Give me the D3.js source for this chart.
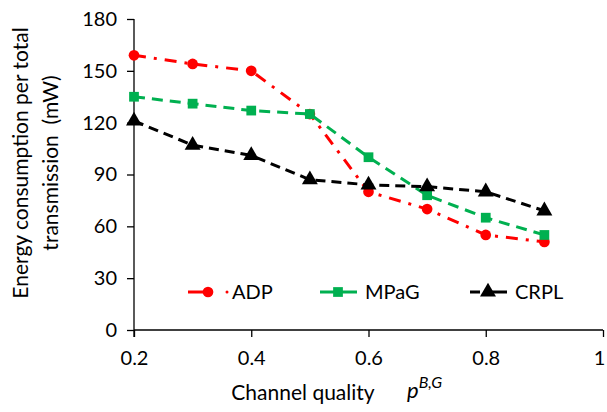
<!DOCTYPE html>
<html>
<head>
<meta charset="utf-8">
<script src="https://cdn.jsdelivr.net/npm/d3@7"></script>
<style>
  body { margin: 0; background: #fff; }
  text { font-family: Lato, "Open Sans", sans-serif; fill: #000; }
</style>
</head>
<body>
<svg width="607" height="412"></svg>
<script>
var quality = [0.2, 0.3, 0.4, 0.5, 0.6, 0.7, 0.8, 0.9];
var adp = [159, 154, 150, 125, 80, 70, 55, 51];
var mpag = [135, 131, 127, 125, 100, 78, 65, 55];
var crpl = [121, 107, 101, 87, 84, 83, 80, 69];
var xTicks = [0.2, 0.4, 0.6, 0.8, 1];
var yTicks = [0, 30, 60, 90, 120, 150, 180];

var series = [
    { name: "ADP", values: adp, color: "#FF0000", dash: "12,8,3,8", shape: "circle" },
    { name: "MPaG", values: mpag, color: "#00B050", dash: "11,7", shape: "square" },
    { name: "CRPL", values: crpl, color: "#000000", dash: "10,6", shape: "triangle" }
];

var svg = d3.select("svg"),
    margin = { top: 19, right: 4, bottom: 82, left: 134 },
    width = +svg.attr("width") - margin.left - margin.right,
    height = +svg.attr("height") - margin.top - margin.bottom;

var x = d3.scaleLinear().domain([0.2, 1]).range([0, width]);
var y = d3.scaleLinear().domain([0, 180]).range([height, 0]);

var g = svg.append("g")
    .attr("transform", "translate(" + margin.left + "," + margin.top + ")");

// axes
var yAxis = g.append("g")
    .call(d3.axisLeft(y).tickValues(yTicks).tickSize(7).tickPadding(10));
var xAxis = g.append("g")
    .attr("transform", "translate(0," + height + ")")
    .call(d3.axisBottom(x).tickValues(xTicks).tickSize(7).tickPadding(14)
        .tickFormat(function (d) { return d === 1 ? "1" : d3.format(".1f")(d); }));

[xAxis, yAxis].forEach(function (a) {
    a.select(".domain").attr("stroke", "#000").attr("stroke-width", 1.3);
    a.selectAll(".tick line").attr("stroke", "#000").attr("stroke-width", 1.3);
    a.selectAll("text").attr("font-size", 20).attr("fill", "#000");
});
xAxis.select(".domain").attr("d", "M0,0H" + width);
yAxis.select(".domain").attr("d", "M0," + (height + 7) + "V0");
// keep the last label inside the frame
xAxis.selectAll(".tick text").filter(function (d) { return d === 1; }).attr("dx", -4);

var symbols = {
    circle: d3.symbol().type(d3.symbolCircle).size(90),
    square: d3.symbol().type(d3.symbolSquare).size(95),
    triangle: d3.symbol().type(d3.symbolTriangle).size(110)
};

var line = d3.line()
    .x(function (d, i) { return x(quality[i]); })
    .y(function (d) { return y(d); });

series.forEach(function (s) {
    g.append("path")
        .attr("d", line(s.values))
        .attr("fill", "none")
        .attr("stroke", s.color)
        .attr("stroke-width", 3)
        .attr("stroke-dasharray", s.dash);
    g.selectAll(".pt-" + s.name)
        .data(s.values)
        .enter().append("path")
        .attr("transform", function (d, i) { return "translate(" + x(quality[i]) + "," + y(d) + ")"; })
        .attr("d", symbols[s.shape])
        .attr("fill", s.color);
});

// legend
var legendX = [188, 320, 470];
var legendY = 292;
series.forEach(function (s, i) {
    var lg = svg.append("g").attr("transform", "translate(" + legendX[i] + "," + legendY + ")");
    if (s.name === "ADP") {
        lg.append("line").attr("x1", 0).attr("x2", 13).attr("stroke", s.color).attr("stroke-width", 3);
        lg.append("line").attr("x1", 13).attr("x2", 20).attr("stroke", s.color).attr("stroke-width", 3);
        lg.append("circle").attr("cx", 39).attr("r", 1.5).attr("fill", s.color);
        lg.append("path").attr("transform", "translate(20,0)").attr("d", symbols[s.shape]).attr("fill", s.color);
        lg.append("text").attr("x", 44).attr("y", 7).attr("font-size", 20).text(s.name);
    } else {
        lg.append("line").attr("x1", 0).attr("x2", 37).attr("stroke", s.color).attr("stroke-width", 3)
            .attr("stroke-dasharray", s.name === "CRPL" ? "10,6,100" : "14,4,100");
        lg.append("path").attr("transform", "translate(18,0)").attr("d", symbols[s.shape]).attr("fill", s.color);
        lg.append("text").attr("x", 45).attr("y", 7).attr("font-size", 20).text(s.name);
    }
});

// axis titles
var yt = svg.append("text")
    .attr("transform", "translate(28,163) rotate(-90)")
    .attr("text-anchor", "middle")
    .attr("font-size", 21);
yt.append("tspan").attr("x", 0).attr("dy", 0).text("Energy consumption per total");
yt.append("tspan").attr("x", 0).attr("dy", 30).text("transmission \u00a0(mW)");

svg.append("text")
    .attr("x", 303).attr("y", 400)
    .attr("text-anchor", "middle")
    .attr("font-size", 21)
    .text("Channel quality");
var pt = svg.append("text")
    .attr("x", 407).attr("y", 398)
    .attr("font-family", "'DejaVu Serif', serif")
    .attr("font-style", "italic")
    .attr("font-size", 22);
pt.append("tspan").text("p");
pt.append("tspan").attr("dy", -10).attr("font-size", 16).text("B,G");
</script>
</body>
</html>
